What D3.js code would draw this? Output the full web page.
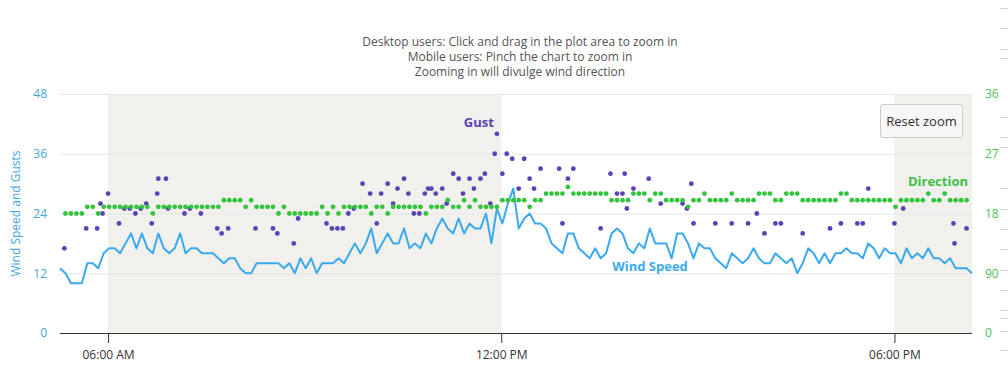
<!DOCTYPE html>
<html><head><meta charset="utf-8">
<script src="https://cdn.jsdelivr.net/npm/d3@7/dist/d3.min.js"></script>
<style>
body{margin:0;background:#fff}
svg{display:block}
text{font-family:"Open Sans","Noto Sans",sans-serif}
</style>
</head><body>
<svg id="chart" width="1008" height="366"></svg>
<script>
const titleLines = [
  "Desktop users: Click and drag in the plot area to zoom in",
  "Mobile users: Pinch the chart to zoom in",
  "Zooming in will divulge wind direction"
];
const startTime = "5:16";
const stepMinutes = 5;
const windSpeed = [
  13,12,10,10,10,14,14,13,16,17,
  17,16,18,20,17,20,17,16,20,17,
  16,17,20,16,17,17,16,16,16,15,
  14,15,15,13,12,12,14,14,14,14,
  14,13,14,12,15,13,15,12,14,14,
  14,15,14,16,18,16,18,21,16,18,
  20,18,18,21,17,18,17,20,18,21,
  23,21,20,23,20,22,21,21,24,18,
  25,22,26,29,21,23,24,22,22,21,
  18,17,16,20,20,17,16,15,17,15,
  16,20,21,20,17,16,18,17,21,18,
  18,18,15,20,20,18,15,18,17,17,
  15,14,13,16,15,14,15,17,15,14,
  14,16,15,14,15,12,14,17,16,14,
  16,14,16,16,17,16,16,15,18,17,
  15,17,16,16,14,17,15,16,15,17,
  15,15,14,15,13,13,13,12
];
const direction = [
  null,180,180,180,180,190,190,180,190,190,
  190,190,190,190,190,190,190,180,190,190,
  190,190,190,190,190,190,190,190,190,190,
  200,200,200,200,190,200,190,190,190,190,
  180,190,180,180,180,180,180,180,190,180,
  190,180,190,190,190,190,190,180,190,190,
  180,190,190,190,190,190,190,180,190,190,
  190,200,190,190,200,190,200,190,190,190,
  190,200,200,200,200,200,190,200,200,210,
  210,210,210,220,210,210,210,210,210,210,
  210,200,200,200,200,210,210,210,200,210,
  210,200,200,200,200,190,200,200,210,200,
  200,200,200,210,200,200,200,200,210,210,
  210,200,200,210,210,210,200,200,200,200,
  200,200,200,210,210,200,200,200,200,200,
  200,200,200,190,200,200,200,200,200,210,
  200,200,210,200,200,200,200,null
];
const gusts = [
  ["5:20",17],["5:40",21],["5:50",21],["5:53",26],["5:55",24],["6:00",28],["6:10",22],["6:15",25],
  ["6:20",25],["6:25",24],["6:30",25],["6:35",26],["6:40",22],["6:45",28],["6:46",31],["6:53",31],
  ["6:55",25],["7:10",24],["7:15",25],["7:25",24],["7:40",21],["7:44",20],["7:50",21],
  ["8:15",21],["8:31",21],["8:35",20],["8:50",18],["8:54",23],["9:20",22],["9:25",21],["9:30",21],
  ["9:35",21],["9:40",24],["9:45",25],["9:53",30],["10:00",28],["10:06",22],["10:10",28],["10:16",30],
  ["10:21",26],["10:25",29],["10:31",31],["10:35",28],["10:40",24],["10:45",24],["10:50",28],["10:53",29],
  ["10:56",29],["11:00",28],["11:06",29],["11:10",26],["11:16",32],["11:21",31],["11:25",28],["11:31",31],
  ["11:35",29],["11:41",31],["11:45",32],["11:50",26],["11:54",36],["11:56",40],["12:01",32],["12:05",36],
  ["12:10",35],["12:16",29],["12:21",35],["12:26",31],["12:30",29],["12:36",33],["12:53",33],["12:56",22],
  ["13:01",31],["13:06",33],["13:31",21],["13:40",32],["13:46",28],["13:51",28],["13:53",32],["13:55",25],
  ["14:01",29],["14:15",31],["14:26",26],["14:46",26],["14:50",25],["14:54",30],["14:56",22],["15:16",22],
  ["15:31",22],["15:46",22],["15:54",24],["16:01",20],["16:11",22],["16:16",22],["16:36",20],["17:01",21],
  ["17:11",22],["17:26",22],["17:31",22],["17:36",29],["18:00",22],["18:08",25],["18:54",22],["18:55",18],
  ["19:06",21]
];
const timeTicks = ["6:00","12:00","18:00"];
const timeTickLabels = ["06:00 AM","12:00 PM","06:00 PM"];
const speedTicks = [0,12,24,36,48];
const directionTicks = [0,90,180,270,360];
const shadedBands = [["6:00","12:00"],["18:00","19:11"]];
const edgeTicks = [65.2,61.2,57.0,55.3,43.3,39.4,37.4,29.1,24.9,20.9,16.9,12.7,8.7,4.7,3.0,0.5,-3.5];

const toMin = s => { const [h,m] = s.split(":").map(Number); return h*60+m; };
const t0 = toMin(startTime);
const speedPts = windSpeed.map((v,i)=>({t:t0+i*stepMinutes, v}));
const dirPts = direction.map((v,i)=>({t:t0+i*stepMinutes, v})).filter(d=>d.v!=null);
const gustPts = gusts.map(([s,v])=>({t:toMin(s), v}));

const svg = d3.select("#chart");
const L = 60, R = 972, T = 94, B = 333;
const x = d3.scaleLinear().domain(d3.extent(speedPts, d=>d.t)).range([L,R]);
const y = d3.scaleLinear().domain([0,48]).range([B,T]);
const yDir = d3.scaleLinear().domain([0,360]).range([B,T]);

const cSpeed = "#3aa9ee", cGust = "#5743b5", cDir = "#33c43d";

// title
svg.append("g").selectAll("text").data(titleLines).join("text")
  .attr("x", 520).attr("y", (d,i)=>46+i*15).attr("text-anchor","middle")
  .attr("font-size", 12).attr("fill","#555").text(d=>d);

// bands
svg.append("g").selectAll("rect").data(shadedBands).join("rect")
  .attr("x", d=>x(toMin(d[0]))).attr("y", T)
  .attr("width", d=>Math.min(R, x(toMin(d[1]))) - x(toMin(d[0]))).attr("height", B-T)
  .attr("fill","#f2f0ec");

// grid
svg.append("g").selectAll("line").data(speedTicks.filter(d=>d>0)).join("line")
  .attr("x1",L).attr("x2",R).attr("y1",d=>y(d)+0.5).attr("y2",d=>y(d)+0.5)
  .attr("stroke","#e6e6e6");

// x axis
const xAxis = svg.append("g").attr("transform",`translate(0,${B})`)
  .call(d3.axisBottom(x).tickValues(timeTicks.map(toMin)).tickSize(10).tickPadding(7)
    .tickFormat((d,i)=>timeTickLabels[i]));
xAxis.select(".domain").attr("stroke","#333").attr("d",`M${L},0.5H${R}`);
xAxis.selectAll(".tick line").attr("stroke","#333");
xAxis.selectAll(".tick text").attr("font-size",12).attr("fill","#333")
  .attr("font-family","Open Sans, sans-serif");

// left axis
const yAxis = svg.append("g").attr("transform",`translate(${L},0)`)
  .call(d3.axisLeft(y).tickValues(speedTicks).tickSize(0).tickPadding(13));
yAxis.select(".domain").remove();
yAxis.selectAll(".tick text").attr("font-size",12).attr("fill","#3fa6e0")
  .attr("font-family","Open Sans, sans-serif");
svg.append("text").attr("transform",`translate(20,${(T+B)/2}) rotate(-90)`)
  .attr("text-anchor","middle").attr("font-size",12).attr("fill","#3fa6e0")
  .text("Wind Speed and Gusts");

// right axis (direction, labels clipped to two characters)
const rAxis = svg.append("g").attr("transform",`translate(${R},0)`)
  .call(d3.axisRight(yDir).tickValues(directionTicks).tickSize(0).tickPadding(13)
    .tickFormat(d=>String(d).slice(0,2)));
rAxis.select(".domain").remove();
rAxis.selectAll(".tick text").attr("font-size",12).attr("fill","#4cc258")
  .attr("font-family","Open Sans, sans-serif");

// edge ticks at far right
svg.append("g").selectAll("line").data(edgeTicks).join("line")
  .attr("x1",1000).attr("x2",1008).attr("y1",d=>Math.round(y(d))+0.5).attr("y2",d=>Math.round(y(d))+0.5)
  .attr("stroke","#d8d8d8");

// speed line
svg.append("path").datum(speedPts)
  .attr("d", d3.line().x(d=>x(d.t)).y(d=>y(d.v)))
  .attr("fill","none").attr("stroke",cSpeed).attr("stroke-width",2).attr("stroke-linejoin","round");

// gust dots
svg.append("g").selectAll("circle").data(gustPts).join("circle")
  .attr("cx",d=>x(d.t)).attr("cy",d=>y(d.v)).attr("r",2.4).attr("fill",cGust);

// direction dots
svg.append("g").selectAll("circle").data(dirPts).join("circle")
  .attr("cx",d=>x(d.t)).attr("cy",d=>yDir(d.v)).attr("r",2.4).attr("fill",cDir);

// series labels
const gMax = gustPts.reduce((a,b)=>b.v>a.v?b:a);
svg.append("text").attr("x",x(gMax.t)-18).attr("y",y(gMax.v)-7).attr("text-anchor","middle")
  .attr("font-size",13).attr("font-weight","bold").attr("fill",cGust).text("Gust");
svg.append("text").attr("x",650).attr("y",y(12.5)).attr("text-anchor","middle")
  .attr("font-size",13).attr("font-weight","bold").attr("fill",cSpeed).text("Wind Speed");
svg.append("text").attr("x",R-4).attr("y",yDir(221)).attr("text-anchor","end")
  .attr("font-size",13).attr("font-weight","bold").attr("fill","#3cbf48").text("Direction");

// reset zoom button
const btn = svg.append("g").attr("transform","translate(880.5,104.5)");
btn.append("rect").attr("width",82).attr("height",33).attr("rx",2)
  .attr("fill","#f7f7f7").attr("stroke","#cccccc");
btn.append("text").attr("x",41).attr("y",21).attr("text-anchor","middle")
  .attr("font-size",13).attr("fill","#333").text("Reset zoom");
</script>
</body></html>
